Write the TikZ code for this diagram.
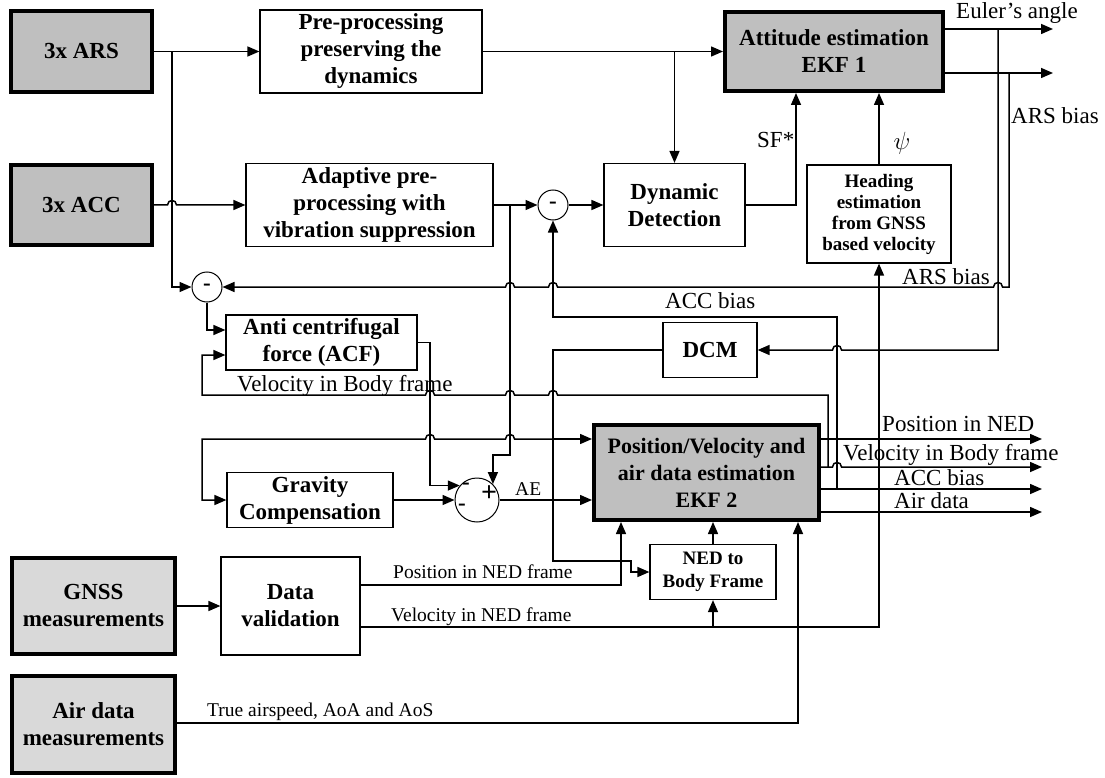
\documentclass[tikz,border=0pt]{standalone}
\usepackage{fontspec}
\setmainfont{Liberation Serif}
\usetikzlibrary{arrows.meta,calc}
\definecolor{boxgray}{HTML}{BFBFBF}
\definecolor{lightgraybox}{HTML}{D9D9D9}
\newcommand\szA{\fontsize{23}{27}\selectfont}
\newcommand\szB{\fontsize{19}{21}\selectfont}
\newcommand\szC{\fontsize{19.5}{22}\selectfont}
\newcommand\szD{\fontsize{22}{27}\selectfont}
\newcommand\szE{\fontsize{19}{23}\selectfont}
\newcommand\szF{\fontsize{28}{30}\selectfont}
\def\hopR(#1,#2){-- ({#1-4.5},#2) .. controls ({#1-4.5},{#2-6}) and ({#1+4.5},{#2-6}) .. ({#1+4.5},#2)}
\def\hopL(#1,#2){-- ({#1+4.5},#2) .. controls ({#1+4.5},{#2-6}) and ({#1-4.5},{#2-6}) .. ({#1-4.5},#2)}
\tikzset{
 box/.style={draw, line width=1.2pt, fill=white, align=center, inner sep=0pt, font=\bfseries\szA},
 tbox/.style={box, line width=4pt, fill=boxgray},
 lbox/.style={box, line width=4pt, fill=lightgraybox},
 sumc/.style={draw, circle, line width=1pt, inner sep=0pt, fill=white},
 conn/.style={line width=1.5pt},
 arr/.style={conn, -{Triangle[length=12pt,width=10pt]}},
 lab/.style={inner sep=0pt, anchor=base west, font=\szA},
 slab/.style={lab, font=\szC},
 sign/.style={inner sep=0pt, font=\bfseries\szA},
}
\begin{document}
\begin{tikzpicture}[x=1pt,y=-1pt]
\useasboundingbox (0,0) rectangle (1105,778);
% blocks
\node[tbox, minimum width=141, minimum height=81] (ars) at (81.5,51.5) {3x ARS};
\node[tbox, minimum width=141, minimum height=80] (acc) at (81.5,205) {3x ACC};
\node[box, minimum width=222, minimum height=83] (pre) at (371,51.5) {Pre-processing\\preserving the\\dynamics};
\node[box, minimum width=247, minimum height=83] (adp) at (369.5,205) {Adaptive pre-\\processing with\\vibration suppression};
\node[sumc, minimum size=30] (c1) at (553,205) {};
\node[box, minimum width=141, minimum height=83] (dd) at (674.5,205) {Dynamic\\Detection};
\node[tbox, minimum width=218, minimum height=79] (ekf1) at (834,51.5) {Attitude estimation\\EKF 1};
\node[box, minimum width=144, minimum height=98, font=\bfseries\szB] (head) at (879,214) {Heading\\estimation\\from GNSS\\based velocity};
\node[sumc, minimum size=30] (c2) at (207,287) {};
\node[box, minimum width=191, minimum height=55] (acf) at (321.5,342.5) {Anti centrifugal\\force (ACF)};
\node[box, minimum width=94, minimum height=55] (dcm) at (710,350) {DCM};
\node[box, minimum width=166, minimum height=55] (grav) at (310,500) {Gravity\\Compensation};
\node[sumc, minimum size=44] (c3) at (477,500) {};
\node[tbox, minimum width=225, minimum height=95, font=\bfseries\szD] (ekf2) at (706.5,472.5) {Position/Velocity and\\air data estimation\\EKF 2};
\node[box, minimum width=126, minimum height=55, font=\bfseries\szE] (ned) at (713,572) {NED to\\Body Frame};
\node[lbox, minimum width=163, minimum height=96] (gnss) at (93.5,606) {GNSS\\measurements};
\node[box, minimum width=139, minimum height=98] (dv) at (290.5,606) {Data\\validation};
\node[lbox, minimum width=163, minimum height=97] (air) at (93.5,724.5) {Air data\\measurements};
% signs
\node[sign] (s1) at (c1) {-};
\node[sign] (s2) at (c2) {-};
\node[sign] (s3) at (466,486) {-};
\node[sign] (s4) at (462,507) {-};
\node[sign, font=\bfseries\szF] (s5) at (489,494) {+};
% junction / free-end coordinates
\coordinate (jA) at (172,51.5);
\coordinate (eA) at ([yshift=22.5]ekf1.east);
\coordinate (eB) at ([yshift=-21.5]ekf1.east);
\coordinate (oEul) at (1053,29);
\coordinate (oB) at (1053,73);
\coordinate (vn) at ([yshift=-21]dv.east);
% connectors
\draw[arr] (ars.east) -- (pre.west);
\draw[arr] (jA) |- (c2.west);
\draw[arr] (acc.east) \hopR(172,205) -- (adp.west);
\draw[arr] (pre.east) -- (ekf1.west);
\draw[arr] (pre.east -| dd.north) -- (dd.north);
\draw[arr] (adp.east) -- (c1.west);
\draw[arr] (c1.east) -- (dd.west);
\draw[arr] (dd.east) -| ([xshift=-38]ekf1.south);
\draw[arr] (head.north) -- (head.north |- ekf1.south);
\draw[arr] (eA) -- (oEul);
\draw[arr] (eB) -- (oB);
\draw[arr] (998,29) -- (998,350) \hopL(837,350) -- (dcm.east);
\draw[arr] (1009,73) -- (1009,287) \hopL(998,287) \hopL(553,287) \hopL(510,287) -- (c2.east);
\draw[arr] (837,489) -- (837,317) -| (c1.south);
\draw[arr] (dcm.west) -- (553,350) -- (553,561) -- (631,561) -- (631,572) -- (ned.west);
\draw[arr] (553,439) -- ([yshift=33.5]ekf2.west);
\draw[arr] (553,439) \hopL(510,439) \hopL(430,439) -- (202,439) |- (grav.west);
\draw[arr] (828,467) -- (828,395) \hopL(553,395) \hopL(510,395) \hopL(430,395) -- (202,395) |- ([yshift=-12.5]acf.west);
\draw[arr] (c2.south) |- ([yshift=12.5]acf.west);
\draw[arr] (acf.east) -- (430,342.5) |- (c3.140);
\draw[arr] (510,205) -- (510,455) -| (c3.45);
\draw[arr] (grav.east) -- (c3.west);
\draw[arr] (c3.east) -- ([yshift=-27.5]ekf2.west);
\draw[arr] (gnss.east) -- (dv.west);
\draw[arr] ([yshift=21]dv.east) -| ([xshift=-85.5]ekf2.south);
\draw[arr] (vn) -| (head.south);
\draw[arr] (vn -| ned.south) -- (ned.south);
\draw[arr] (ned.north) -- (ned.north |- ekf2.south);
\draw[arr] ([yshift=1.5]air.east) -| ([xshift=91.5]ekf2.south);
\draw[arr] ([yshift=33.5]ekf2.east) -- (1042,439);
\draw[arr] ([yshift=5.5]ekf2.east) \hopR(837,467) -- (1042,467);
\draw[arr] ([yshift=-16.5]ekf2.east) -- (1042,489);
\draw[arr] ([yshift=-39.5]ekf2.east) -- (1042,512);
% labels
\node[lab] (l1) at (956,19) {Euler’s angle};
\node[lab] (l2) at (1011,124) {ARS bias};
\node[lab] (l3) at (757,148) {SF*};
\node[inner sep=0pt, font=\szA] (l4) at (902,143) {$\psi$};
\node[lab] (l5) at (902,284) {ARS bias};
\node[lab] (l6) at (665,308) {ACC bias};
\node[lab] (l7) at (237,391) {Velocity in Body frame};
\node[slab] (l8) at (515,495) {AE};
\node[lab] (l9) at (882,431) {Position in NED};
\node[lab] (l10) at (843,460) {Velocity in Body frame};
\node[lab] (l11) at (894,485) {ACC bias};
\node[lab] (l12) at (894,508) {Air data};
\node[slab] (l13) at (393,578) {Position in NED frame};
\node[slab] (l14) at (391,621) {Velocity in NED frame};
\node[slab] (l15) at (207,716) {True airspeed, AoA and AoS};
\end{tikzpicture}
\end{document}
